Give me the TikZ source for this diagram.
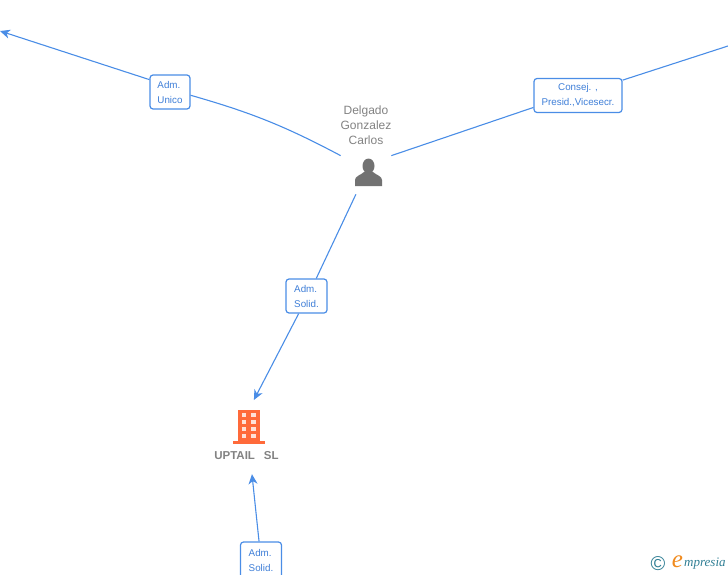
\documentclass[tikz,border=0pt]{standalone}
\usepackage{fontspec}
\setmainfont{Liberation Sans}
\newfontfamily\logofont{Liberation Serif}
\usetikzlibrary{arrows.meta}
\definecolor{linkblue}{HTML}{4A8DE6}
\definecolor{labelblue}{HTML}{3F7FD8}
\definecolor{namegray}{HTML}{828282}
\definecolor{persongray}{HTML}{727272}
\definecolor{buildorange}{HTML}{FF6A3A}
\definecolor{logoteal}{HTML}{2F7E94}
\definecolor{logoorange}{HTML}{F08A1D}
\tikzset{
	rolebox/.style={draw=linkblue, line width=1.2pt, rounded corners=3pt, fill=white, text=labelblue,
		align=center, inner sep=0pt, font=\fontsize{9.8}{15}\selectfont,
		execute at begin node=\rule{0pt}{9.5pt}},
	link/.style={draw=linkblue, line width=1.1pt},
	linkarrow/.style={link, -{Stealth[length=10pt, width=9pt, inset=3pt]}},
	zone/.style={circle, inner sep=0pt}
}

\begin{document}
\begin{tikzpicture}[x=1pt, y=-1pt]
			%%%%% START %%%%%
			
			\useasboundingbox (0, 0) rectangle (728, 575);
			\clip (0, 0) rectangle (728, 575);
			
			\node[zone, minimum size=56pt] (delgado) at (366, 168) {};
			\node[zone, minimum size=74pt] (uptail) at (250, 437) {};
			\coordinate (farleft) at (0, 31);
			\coordinate (farright) at (728, 46);
			
			\node[rolebox, align=left, minimum width=40pt, minimum height=34pt] (unico) at (170, 92) {Adm.\\Unico};
			\node[rolebox, minimum width=88pt, minimum height=34pt] (consej) at (578, 95.5) {Consej. ,\\Presid.,Vicesecr.};
			\node[rolebox, align=left, minimum width=41pt, minimum height=34pt] (solidup) at (306.5, 296) {Adm.\\Solid.};
			\node[rolebox, align=left, minimum width=41pt, minimum height=36pt] (soliddown) at (261, 560) {Adm.\\Solid.};
			
			\draw[link] (delgado.154) to[bend right=6] (unico.351);
			\draw[linkarrow] (unico.149) -- (farleft);
			\draw[link] (delgado.26) -- (consej.195);
			\draw[link] (consej.19) -- (farright);
			\draw[link] (delgado.249) -- (solidup.61);
			\draw[linkarrow] (solidup.246) -- (uptail.84);
			\draw[linkarrow] (soliddown) -- (uptail.273);
			
			\node[text=namegray, align=center, font=\fontsize{12}{15}\selectfont] (delgadoname) at (366, 125) {Delgado\\Gonzalez\\Carlos};
			\node[text=namegray, font=\fontsize{11.5}{14}\selectfont\bfseries] (uptailname) at (246.5, 455.5) {UPTAIL\hspace{9pt}SL};
			
			% person
			\fill[persongray] (368.5, 166) ellipse (6 and 7.5);
			\fill[persongray] (355, 186) -- (355, 180) .. controls (355, 176) and (361, 175) .. (364, 172)
				-- (373, 172) .. controls (376, 175) and (382, 176) .. (382, 180) -- (382, 186) -- cycle;
			
			% building
			\fill[buildorange] (238, 410) rectangle (260, 441);
			\fill[buildorange] (233, 440.5) rectangle (265, 443.5);
			\foreach \winy in {413, 420, 427, 434} {
				\fill[white!80!buildorange] (241.5, \winy) rectangle (246, \winy+4);
				\fill[white!80!buildorange] (251, \winy) rectangle (256, \winy+4);
			}
			
			% logo
			\node[text=logoteal, font=\fontsize{20}{20}\selectfont, inner sep=0pt] (logoc) at (658, 564) {©};
			\node[text=logoorange, font=\fontsize{25}{25}\logofont\itshape, inner sep=0pt] (logoe) at (677.5, 562) {e};
			\node[text=logoteal, font=\fontsize{13}{14}\logofont\itshape, inner sep=0pt, anchor=west] (logotext) at (684, 564) {mpresia};
			
			%%%%% END %%%%%
\end{tikzpicture}
\end{document}
